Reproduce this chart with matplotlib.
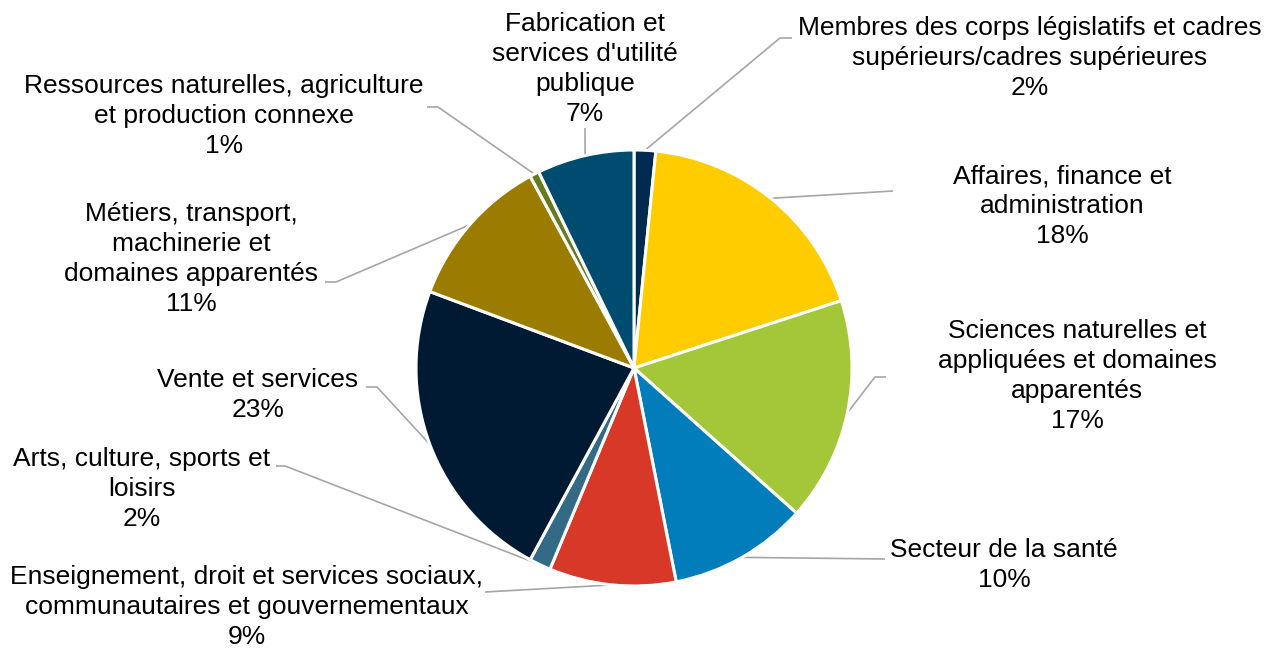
import math
import matplotlib
matplotlib.use("Agg")
import matplotlib.pyplot as plt

plt.rcParams['font.family'] = ['Liberation Sans', 'DejaVu Sans']

# occupation groups, clockwise from 12 o'clock
categories = [
    "Membres des corps législatifs et cadres\nsupérieurs/cadres supérieures",
    "Affaires, finance et\nadministration",
    "Sciences naturelles et\nappliquées et domaines\napparentés",
    "Secteur de la santé",
    "Enseignement, droit et services sociaux,\ncommunautaires et gouvernementaux",
    "Arts, culture, sports et\nloisirs",
    "Vente et services",
    "Métiers, transport,\nmachinerie et\ndomaines apparentés",
    "Ressources naturelles, agriculture\net production connexe",
    "Fabrication et\nservices d'utilité\npublique",
]
shares = [1.6, 18.4, 16.6, 10.3, 9.4, 1.6, 22.8, 11.4, 0.7, 7.2]
colors = ['#002A4E', '#FFCC00', '#A4C639', '#007DBA', '#D73828',
          '#336B87', '#001A33', '#9C7C00', '#657A1E', '#004B70']

W, H = 1273, 650
cx, cy, R = 634, 368, 218   # pixel coords, y from top

# label centre, and leader-line points after the slice edge (pixel, y from top)
label_pos = [(1030, 58), (1062, 206), (1077, 376), (1004, 565), (247, 607),
             (142, 489), (258, 395), (191, 259), (224, 116), (585, 69)]
leader_pts = [
    [(780, 38), (792, 38)],
    [(893, 191)],
    [(875, 377), (886, 377)],
    [(885, 559)],
    [(485, 592)],
    [(285, 466), (276, 466)],
    [(377, 387), (366, 387)],
    [(336, 282), (325, 282)],
    [(438, 107), (427, 107)],
    [(585, 128)],
]


def flip(p):
    return (p[0], H - p[1])


fig = plt.figure(figsize=(W / 100, H / 100), dpi=100)
ax = fig.add_axes([0, 0, 1, 1])

wedges, _ = ax.pie(shares, colors=colors, startangle=90, counterclock=False,
                   center=(cx, H - cy), radius=R,
                   wedgeprops=dict(edgecolor='white', linewidth=2.2))

for w, cat, v, lp, pts in zip(wedges, categories, shares, label_pos, leader_pts):
    mid = math.radians((w.theta1 + w.theta2) / 2)
    start = (cx + R * math.cos(mid), H - cy + R * math.sin(mid))
    line = [start] + [flip(p) for p in pts]
    ax.plot([p[0] for p in line], [p[1] for p in line],
            color='#A6A6A6', linewidth=1.2, solid_capstyle='butt', zorder=0)
    tx, ty = flip(lp)
    ax.text(tx, ty, f"{cat}\n{round(v)}%", ha='center', va='center',
            fontsize=19, color='black', linespacing=1.3)

ax.set_xlim(0, W)
ax.set_ylim(0, H)
ax.set_aspect('equal')
ax.axis('off')

fig.savefig('out.png', dpi=100)
